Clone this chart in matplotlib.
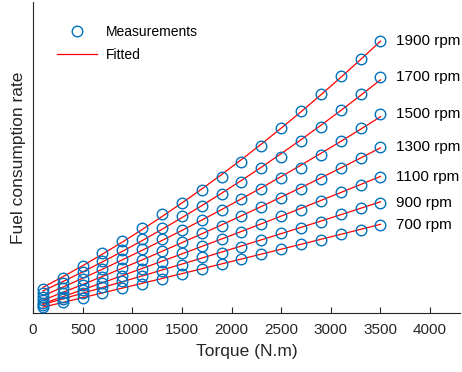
#!/usr/bin/env python

import matplotlib
matplotlib.use("Agg")
import matplotlib.pyplot as plt
import numpy as np

# Torque operating points (N.m)
torque = [100, 300, 500, 700, 900, 1100, 1300, 1500, 1700,
          1900, 2100, 2300, 2500, 2700, 2900, 3100, 3300, 3500]

# Engine speeds and their labels
speeds = [1900, 1700, 1500, 1300, 1100, 900, 700]
speed_labels = ["1900 rpm", "1700 rpm", "1500 rpm", "1300 rpm",
                "1100 rpm", "900 rpm", "700 rpm"]

fuel_1900 = [2.4, 3.5, 4.7, 6.0, 7.2, 8.5, 9.9, 11.0, 12.3,
             13.6, 15.1, 16.6, 18.4, 20.1, 21.8, 23.6, 25.3, 27.1]
fuel_1700 = [2.0, 3.0, 4.1, 5.2, 6.3, 7.4, 8.5, 9.7, 10.7,
             11.9, 13.1, 14.5, 15.6, 17.1, 18.5, 20.2, 21.8, 23.5]
fuel_1500 = [1.6, 2.5, 3.4, 4.4, 5.4, 6.4, 7.4, 8.3, 9.3,
             10.3, 11.4, 12.4, 13.5, 14.5, 15.7, 17.1, 18.4, 19.8]
fuel_1300 = [1.3, 2.0, 2.8, 3.6, 4.5, 5.3, 6.2, 7.1, 8.0,
             8.7, 9.7, 10.6, 11.5, 12.4, 13.4, 14.5, 15.5, 16.5]
fuel_1100 = [1.0, 1.6, 2.3, 3.0, 3.7, 4.4, 5.1, 6.0, 6.7,
             7.4, 8.1, 8.9, 9.7, 10.3, 11.2, 12.1, 12.8, 13.6]
fuel_900 = [0.8, 1.4, 2.0, 2.6, 3.2, 3.7, 4.2, 4.8, 5.6,
            6.0, 6.6, 7.3, 8.0, 8.5, 9.1, 9.9, 10.5, 11.0]
fuel_700 = [0.6, 1.1, 1.5, 2.0, 2.5, 2.9, 3.4, 3.9, 4.4,
            4.9, 5.4, 5.9, 6.4, 6.9, 7.3, 7.9, 8.3, 8.8]

x_ticks = [0, 500, 1000, 1500, 2000, 2500, 3000, 3500, 4000]


def main():
    plt.rcParams["font.family"] = ["Liberation Sans", "DejaVu Sans"]

    fig = plt.figure(figsize=(4.62, 3.72), dpi=100)
    ax = fig.add_axes([0.0714, 0.1586, 0.924, 0.836])

    series = [fuel_1900, fuel_1700, fuel_1500, fuel_1300,
              fuel_1100, fuel_900, fuel_700]
    t = np.array(torque, dtype=float)

    for i, (vals, label) in enumerate(zip(series, speed_labels)):
        vals = np.array(vals)
        # quadratic fit through the measurements
        coef = np.polyfit(t, vals, 2)
        fit = np.polyval(coef, t)
        ax.plot(t, vals, "o", markersize=7.6, markerfacecolor="none",
                markeredgecolor="#0072BD", markeredgewidth=1.0,
                label="Measurements" if i == 0 else None, zorder=3)
        ax.plot(t, fit, "-", color="#FF0000", linewidth=0.9,
                label="Fitted" if i == 0 else None, zorder=2)
        ax.annotate(label, xy=(t[-1], vals[-1]), xytext=(11, 0),
                    textcoords="offset points", ha="left", va="center",
                    fontsize=11, color="#000000")

    ax.set_xlim(0, 4300)
    ax.set_ylim(0, 31.0)
    ax.set_xticks(x_ticks)
    ax.set_yticks([])
    ax.tick_params(axis="x", direction="in", length=4, width=0.8,
                   colors="#262626", labelsize=11, pad=7)
    ax.spines["top"].set_visible(False)
    ax.spines["right"].set_visible(False)
    for side in ["left", "bottom"]:
        ax.spines[side].set_color("#262626")
        ax.spines[side].set_linewidth(0.8)

    ax.set_xlabel("Torque (N.m)", fontsize=12.5, color="#262626", labelpad=5)
    ax.set_ylabel("Fuel consumption rate", fontsize=12.5, color="#262626",
                  labelpad=5)

    ax.legend(loc="upper left", bbox_to_anchor=(0.056, 0.925), frameon=False,
              fontsize=10, handlelength=2.9, handletextpad=0.65,
              borderpad=0, borderaxespad=0, labelspacing=0.6)

    fig.savefig("out.png", dpi=100)


if __name__ == "__main__":
    main()
